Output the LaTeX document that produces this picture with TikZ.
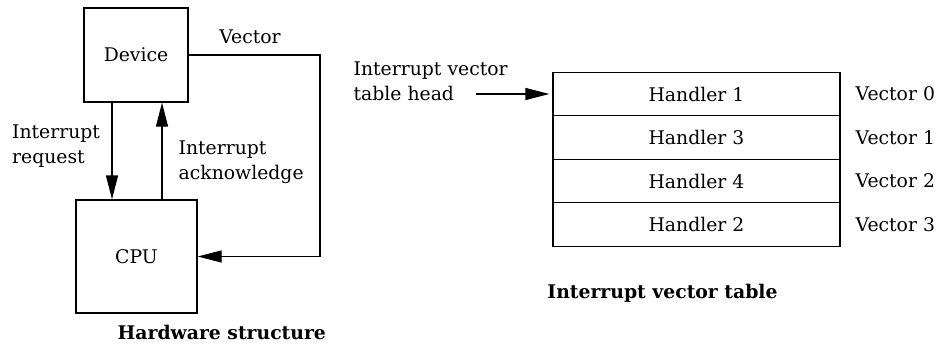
\documentclass[tikz,border=0pt]{standalone}
\usepackage{fontspec}
\setmainfont{DejaVu Serif}
\usetikzlibrary{arrows.meta}
\begin{document}
\begin{tikzpicture}[x=1pt,y=-1pt,
  font=\fontsize{18.8}{24.5}\selectfont,
  line width=1.3pt,
  box/.style={draw,rectangle,inner sep=0pt},
  cell/.style={draw,rectangle,inner sep=0pt,minimum width=287pt,minimum height=43.5pt},
  lbl/.style={inner sep=0pt,align=left},
  arr/.style={-{Triangle[length=24pt,width=12pt]}},
  title/.style={inner sep=0pt,font=\fontsize{18.8}{24.5}\selectfont\bfseries}]
\useasboundingbox (0,0) rectangle (942,343);
% hardware structure
\node[box,minimum width=104pt,minimum height=94pt] (dev) at (136,55) {Device};
\node[box,minimum width=121pt,minimum height=113pt] (cpu) at (136.5,256.5) {CPU};
\coordinate (xa) at (112,0);
\coordinate (xb) at (162,0);
\coordinate (vc) at (320,55);
\draw[arr] (dev.south -| xa) -- (cpu.north -| xa);
\draw[arr] (cpu.north -| xb) -- (dev.south -| xb);
\draw[arr] (dev.east) -- (vc) |- (cpu.east);
\node[inner sep=0pt] (vlab) at (250,37) {Vector};
\node[lbl,anchor=base west] (req) at (11.5,163) {Interrupt\\request};
\node[lbl,anchor=base west] (ack) at (178,179) {Interrupt\\acknowledge};
\node[title,anchor=base west] (hw) at (117,339) {Hardware structure};
% vector table
\node[cell] (h1) at (696.5,94) {Handler 1};
\node[cell] (h3) at (696.5,137.5) {Handler 3};
\node[cell] (h4) at (696.5,181) {Handler 4};
\node[cell] (h2) at (696.5,224.5) {Handler 2};
\node[inner sep=0pt,anchor=west] (v0) at (855,94) {Vector 0};
\node[inner sep=0pt,anchor=west] (v1) at (855,137.5) {Vector 1};
\node[inner sep=0pt,anchor=west] (v2) at (855,181) {Vector 2};
\node[inner sep=0pt,anchor=west] (v3) at (855,224.5) {Vector 3};
\node[lbl,anchor=base west] (head) at (353,100) {Interrupt vector\\table head};
\coordinate (hs) at (476,94);
\draw[arr,shorten >=3pt] (hs) -- (h1.west);
\node[title,anchor=base] (ivt) at (662.5,298) {Interrupt vector table};
\end{tikzpicture}
\end{document}
